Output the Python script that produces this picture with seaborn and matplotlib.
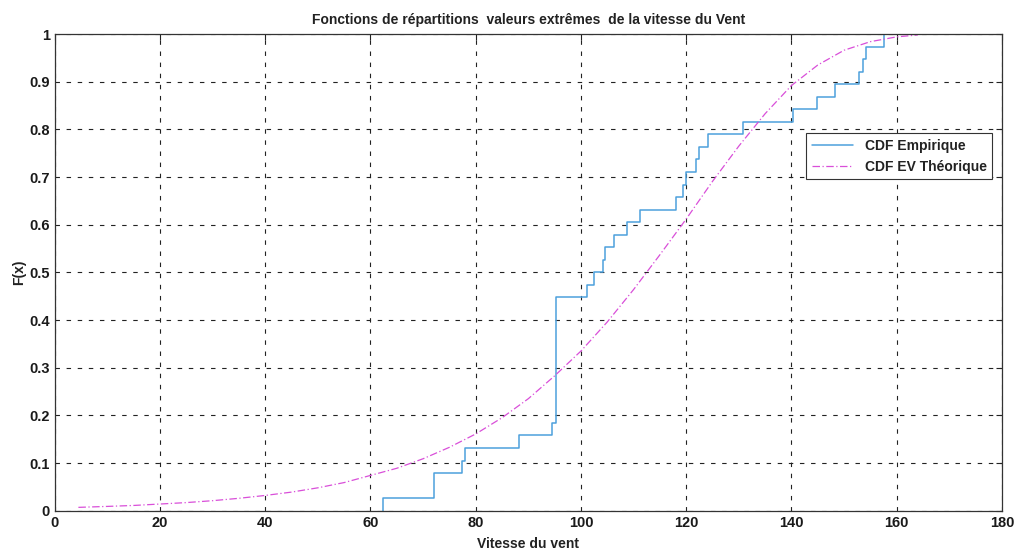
import matplotlib
matplotlib.use("Agg")
import matplotlib.pyplot as plt
import seaborn as sns
import numpy as np
import pandas as pd

# Empirical sample (wind speeds) read from the ECDF steps (38 values)
wind_speeds = [62.4, 72.0, 72.0, 77.4, 78.0, 88.2, 94.5,
               95.3, 95.3, 95.3, 95.3, 95.3, 95.3, 95.3, 95.3, 95.3, 95.3,
               101.2, 102.5, 104.2, 104.6, 106.3, 108.7, 111.3,
               118.0, 119.4, 120.0, 121.8, 122.4, 124.2,
               130.8, 140.2, 144.9, 148.2, 152.8, 153.5, 154.1, 157.6]

# Theoretical extreme-value CDF
theo_x = [4.5, 10, 15, 20, 25, 30, 35, 40, 45, 50, 55, 60, 65, 70, 75, 80,
          85, 90, 95, 100, 105, 110, 115, 120, 125, 130, 135, 140, 145, 150,
          155, 160, 164]
theo_F = [0.007, 0.009, 0.011, 0.014, 0.017, 0.021, 0.026, 0.032, 0.039,
          0.048, 0.059, 0.074, 0.089, 0.109, 0.133, 0.161, 0.195, 0.235,
          0.283, 0.335, 0.396, 0.464, 0.537, 0.612, 0.691, 0.765, 0.833,
          0.892, 0.935, 0.966, 0.984, 0.994, 0.998]

x_ticks = [0, 20, 40, 60, 80, 100, 120, 140, 160, 180]
y_ticks = [0, 0.1, 0.2, 0.3, 0.4, 0.5, 0.6, 0.7, 0.8, 0.9, 1]
y_ticklabels = ["0", "0.1", "0.2", "0.3", "0.4", "0.5", "0.6", "0.7", "0.8", "0.9", "1"]

title = "Fonctions de répartitions  valeurs extrêmes  de la vitesse du Vent"
xlabel = "Vitesse du vent"
ylabel = "F(x)"
label_emp = "CDF Empirique"
label_theo = "CDF EV Théorique"

sns.set_style("white")
plt.rcParams["font.family"] = ["Liberation Sans", "DejaVu Sans"]

fig = plt.figure(figsize=(10.15, 5.53), dpi=100)
ax = fig.add_axes([0.0539, 0.0765, 0.9333, 0.862])

sns.ecdfplot(x=wind_speeds, ax=ax, color="#4da0dc", linewidth=1.1, label=label_emp)
theo_df = pd.DataFrame({"x": theo_x, "F": theo_F})
sns.lineplot(data=theo_df, x="x", y="F", ax=ax, color="#d94fd9", linewidth=0.9,
             linestyle=(0, (6, 2, 1, 2)), label=label_theo)

ax.set_xlim(0, 180)
ax.set_ylim(0, 1)
ax.set_xticks(x_ticks)
ax.set_xticklabels([str(t) for t in x_ticks])
ax.set_yticks(y_ticks)
ax.set_yticklabels(y_ticklabels)

ax.grid(True, linestyle=(0, (4, 6)), color="#222222", linewidth=0.8)
ax.set_axisbelow(True)
for sp in ax.spines.values():
    sp.set_color("#333333")
    sp.set_linewidth(0.9)
ax.tick_params(direction="in", length=4, labelsize=10.5, colors="#222222",
               width=0.8, top=True, right=True)
for lab in ax.get_xticklabels() + ax.get_yticklabels():
    lab.set_color("#1a1a1a")
    lab.set_fontweight("bold")

ax.set_title(title, fontsize=10, color="#222222", pad=7, fontweight="bold")
ax.set_xlabel(xlabel, fontsize=10, color="#222222", labelpad=5, fontweight="bold")
ax.set_ylabel(ylabel, fontsize=10, color="#222222", labelpad=2, fontweight="bold")

leg = ax.legend(loc="upper right", bbox_to_anchor=(0.9895, 0.792),
                prop={"size": 10, "weight": "bold"},
                frameon=True, fancybox=False, handlelength=3.0,
                borderpad=0.4, labelspacing=0.5, borderaxespad=0)
leg.get_frame().set_edgecolor("#333333")
leg.get_frame().set_linewidth(0.8)
leg.get_frame().set_alpha(1)
for t in leg.get_texts():
    t.set_color("#222222")

fig.savefig("out.png", dpi=100)
